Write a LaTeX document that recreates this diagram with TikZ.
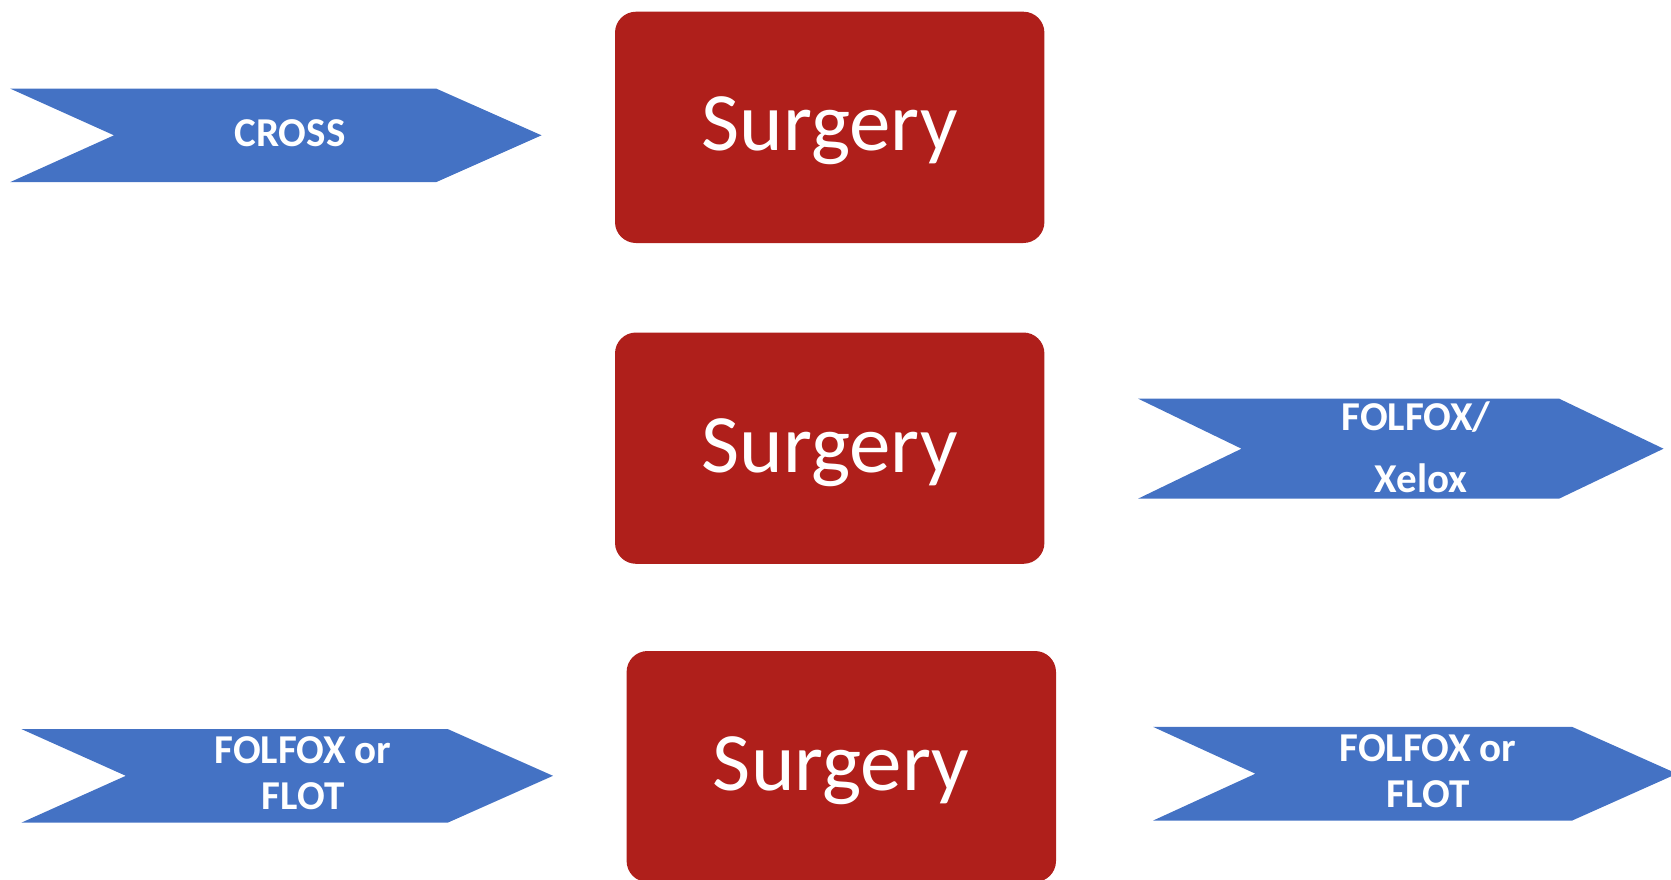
\documentclass[tikz,border=0pt]{standalone}
\usepackage{fontspec}
\setmainfont{Carlito}
\definecolor{chevblue}{RGB}{68,114,196}
\definecolor{surgred}{RGB}{175,31,27}
\tikzset{
  chevfill/.style={fill=chevblue, draw=none},
  surgbox/.style={fill=surgred, draw=none, rounded corners=21pt},
  chevtext/.style={text=white, font=\fontsize{41}{46}\selectfont\bfseries, anchor=base, inner sep=0pt},
  surgtext/.style={text=white, font=\fontsize{83}{96}\selectfont, anchor=base, inner sep=0pt}
}
\begin{document}
\begin{tikzpicture}[x=1pt,y=-1pt]
\useasboundingbox (0,0) rectangle (1671,879);
\begin{scope}
\clip (0,0) rectangle (1671,879);

% chevrons (notched left end, pointed right end)
\fill[chevfill] (10,88.5) -- (436,88.5) -- (541.5,135.3) -- (436,182.2) -- (10,182.2) -- (114,135.3) -- cycle;
\fill[chevfill] (1138,398.6) -- (1559,398.6) -- (1663.5,448.7) -- (1559,498.7) -- (1138,498.7) -- (1241.5,448.7) -- cycle;
\fill[chevfill] (21.3,729) -- (447.6,729) -- (553,775.8) -- (447.6,822.7) -- (21.3,822.7) -- (125.8,775.8) -- cycle;
\fill[chevfill] (1153,726.8) -- (1572,726.8) -- (1677,773.7) -- (1572,820.6) -- (1153,820.6) -- (1255.4,773.7) -- cycle;

% surgery boxes
\fill[surgbox] (615,11.7) rectangle (1044.4,243);
\fill[surgbox] (615,332.5) rectangle (1044.4,563.8);
\fill[surgbox] (626.6,651) rectangle (1056,882);
\end{scope}

% labels
\node[chevtext] (cross) at (290,146) {CROSS};
\node[chevtext] (folfoxa) at (1416,430.5) {FOLFOX/};
\node[chevtext] (xelox) at (1421,492) {Xelox};
\node[chevtext] (folfoxb) at (303,763) {FOLFOX or};
\node[chevtext] (flotb) at (303,809) {FLOT};
\node[chevtext] (folfoxc) at (1428,761) {FOLFOX or};
\node[chevtext] (flotc) at (1428,807) {FLOT};

\node[surgtext] (surg1) at (829.7,150) {Surgery};
\node[surgtext] (surg2) at (829.7,472) {Surgery};
\node[surgtext] (surg3) at (841,790) {Surgery};
\end{tikzpicture}
\end{document}
